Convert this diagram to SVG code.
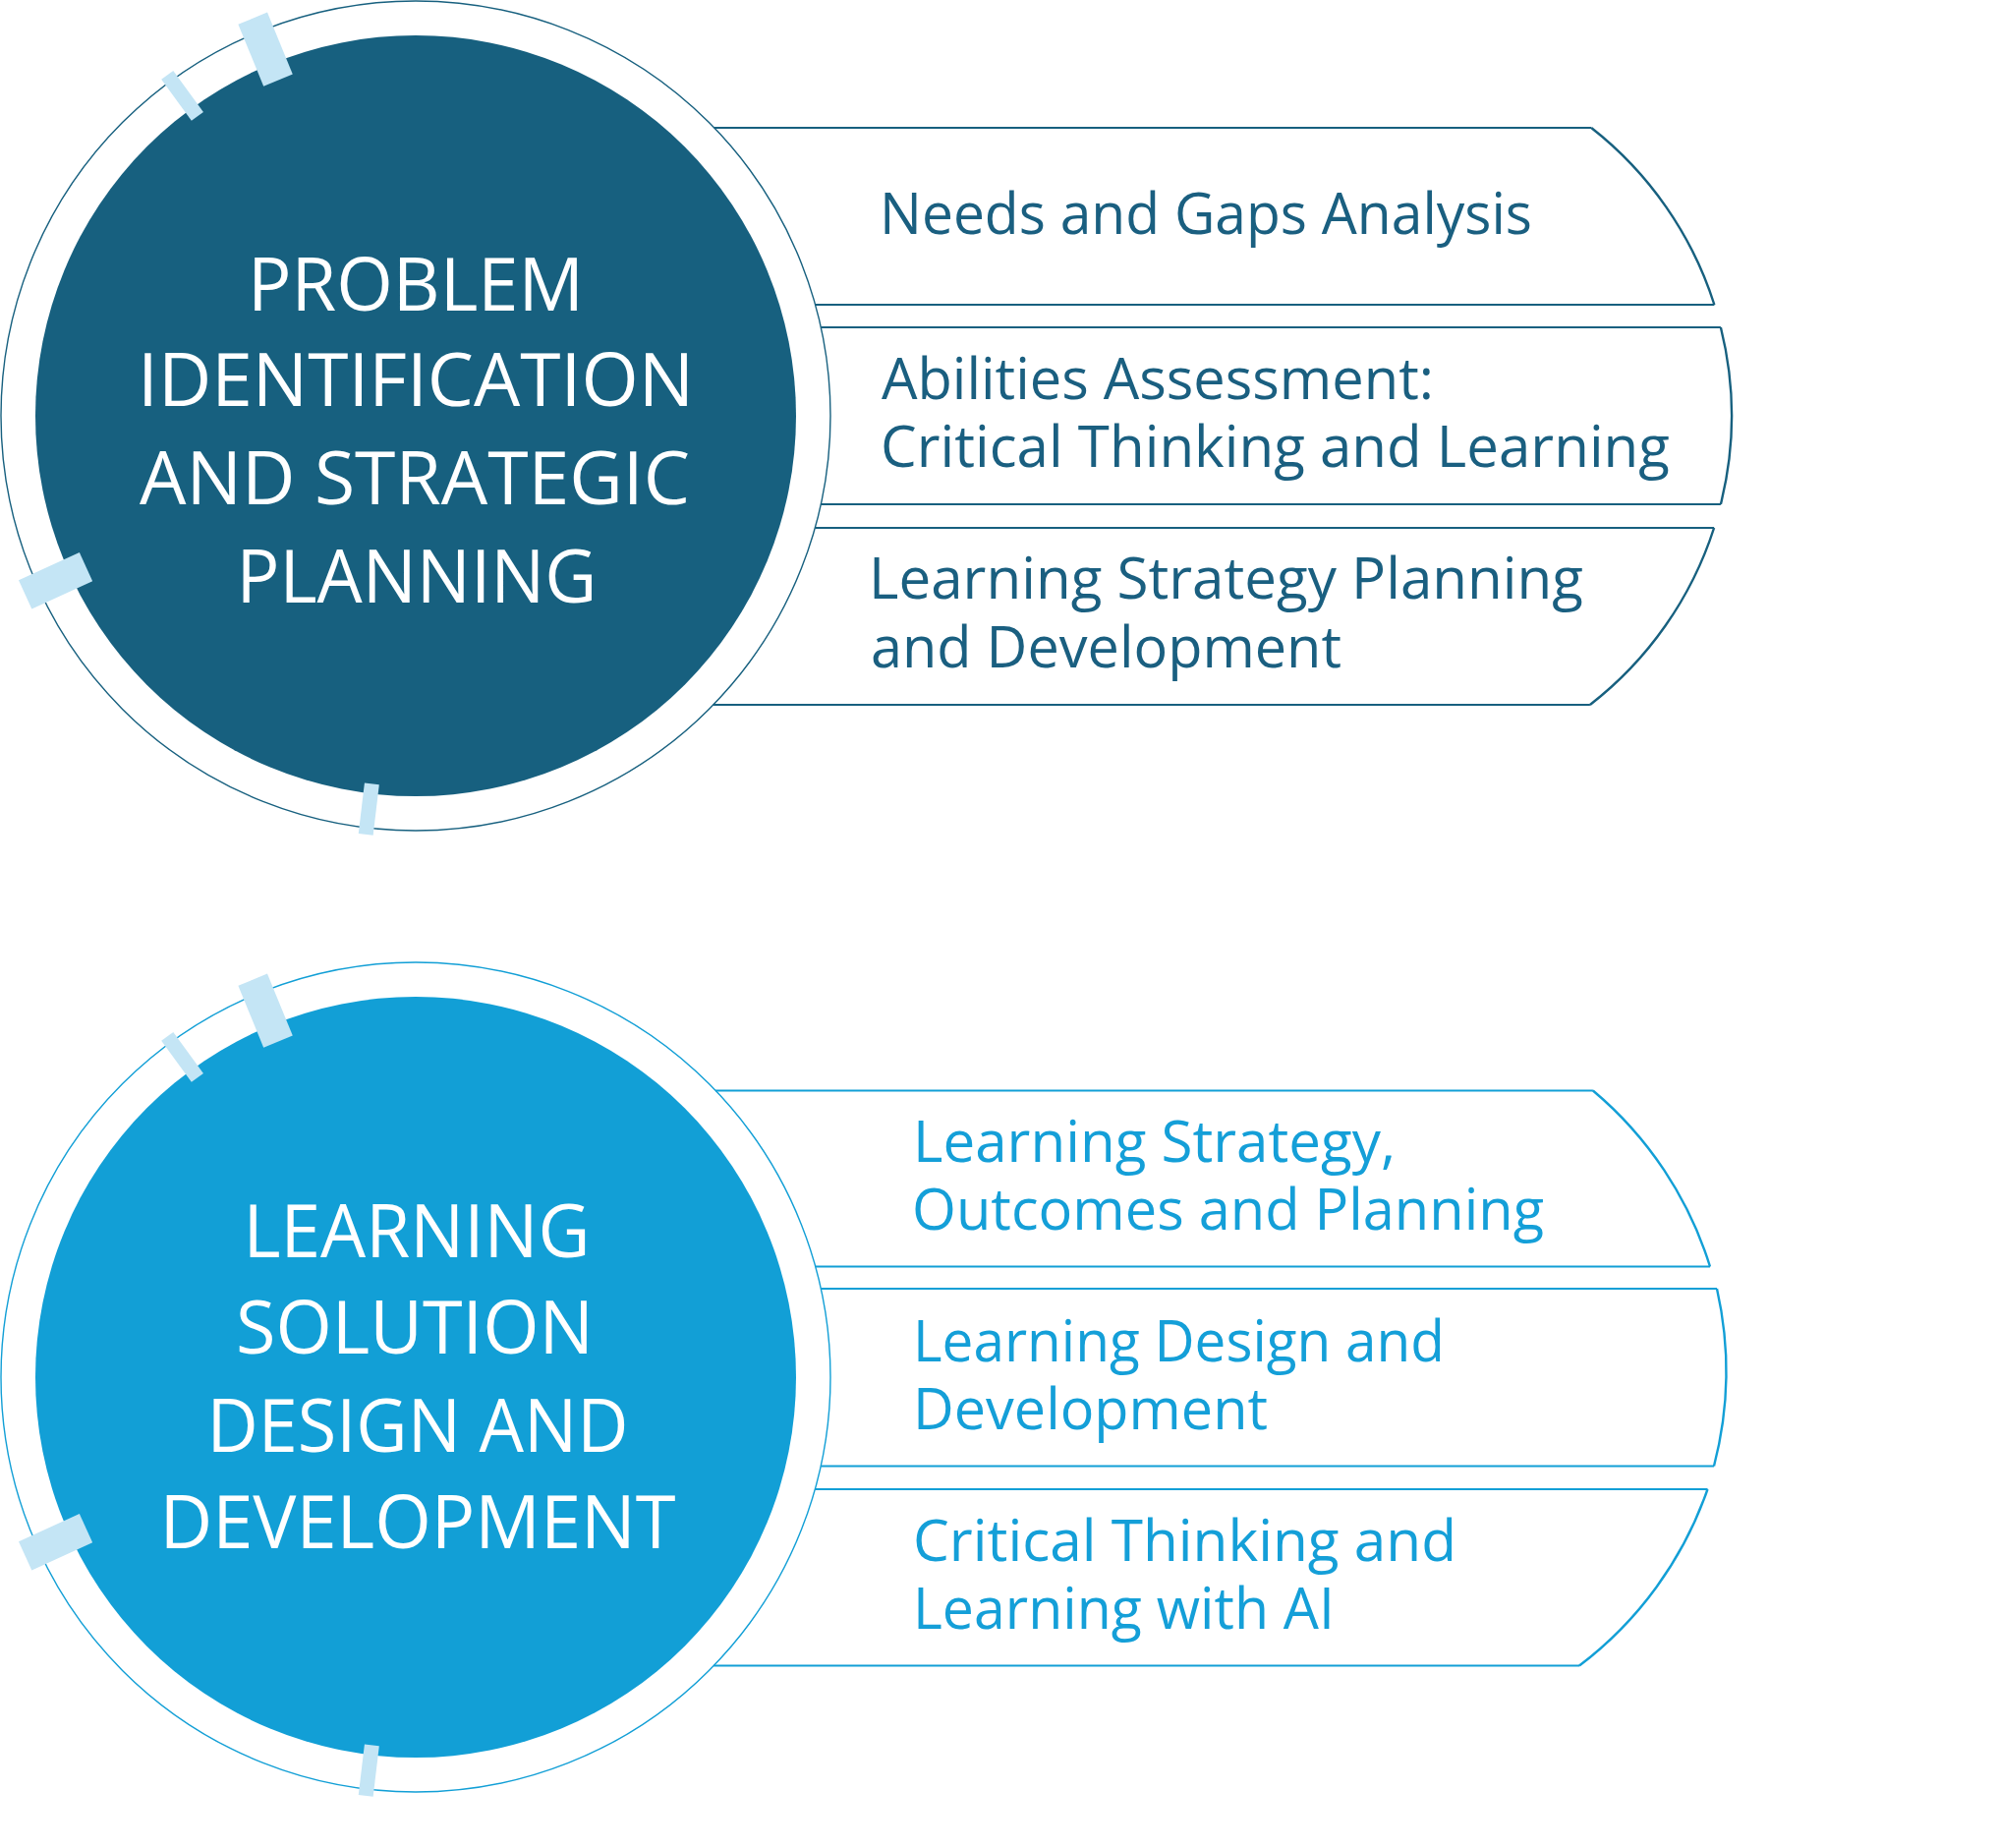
<svg xmlns="http://www.w3.org/2000/svg" width="2032" height="1880" viewBox="0 0 2032 1880">
<defs>
<style>
.bg{fill:#ffffff}
.ring1{fill:none;stroke:#17607f;stroke-width:1.4}
.ring2{fill:none;stroke:#129fd6;stroke-width:1.4}
.core1{fill:#17607f}
.core2{fill:#129fd6}
.tick{fill:#c4e5f5}
.band1{fill:none;stroke:#17607f;stroke-width:1.8}
.band2{fill:none;stroke:#129fd6;stroke-width:1.8}
.arc1{fill:none;stroke:#17607f;stroke-width:2.4}
.arc2{fill:none;stroke:#129fd6;stroke-width:2.4}
.title{font-family:"Open Sans","Noto Sans",sans-serif;font-size:75px;fill:#ffffff}
.lbl1{font-family:"Open Sans","Noto Sans",sans-serif;font-size:59px;fill:#1a5f80}
.lbl2{font-family:"Open Sans","Noto Sans",sans-serif;font-size:59px;fill:#149fd8}
</style>
<g id="ticks">
<rect class="tick" x="-34" y="-16" width="68" height="32" transform="rotate(-112.3) translate(403,0)"/>
<rect class="tick" x="-26" y="-7.5" width="52" height="15" transform="rotate(-126.1) translate(403,0)"/>
<rect class="tick" x="-34" y="-16" width="68" height="32" transform="rotate(155.4) translate(403,0)"/>
<rect class="tick" x="-26" y="-7.5" width="52" height="15" transform="rotate(96.8) translate(403,0)"/>
</g>
</defs>
<rect class="bg" x="0" y="0" width="2032" height="1880"/>

<!-- Group 1 -->
<g id="node-problem-identification">
<circle class="ring1" cx="423" cy="423" r="422"/>
<circle class="core1" cx="423" cy="423" r="387"/>
<use href="#ticks" transform="translate(423,423)"/>
<text class="title">
<tspan x="252" y="316" textLength="342" lengthAdjust="spacingAndGlyphs">PROBLEM</tspan>
<tspan x="140" y="413" textLength="566" lengthAdjust="spacingAndGlyphs">IDENTIFICATION</tspan>
<tspan x="142" y="513" textLength="560" lengthAdjust="spacingAndGlyphs">AND STRATEGIC</tspan>
<tspan x="240.5" y="613" textLength="367" lengthAdjust="spacingAndGlyphs">PLANNING</tspan>
</text>
</g>

<g id="node-needs-gaps">
<path class="band1" d="M726.7,130 H1619.2 M829.6,310 H1744.4"/>
<path class="arc1" d="M1619.2,130 A372,372 0 0 1 1744.4,310"/>
<text class="lbl1" x="895" y="238" textLength="664" lengthAdjust="spacingAndGlyphs">Needs and Gaps Analysis</text>
</g>

<g id="node-abilities-assessment">
<path class="band1" d="M835.3,333 H1750.9 M835.3,513 H1750.9"/>
<path class="arc1" d="M1750.9,333 A372,372 0 0 1 1750.9,513"/>
<text class="lbl1">
<tspan x="897" y="406" textLength="562" lengthAdjust="spacingAndGlyphs">Abilities Assessment:</tspan>
<tspan x="896" y="475" textLength="803" lengthAdjust="spacingAndGlyphs">Critical Thinking and Learning</tspan>
</text>
</g>

<g id="node-learning-strategy-planning">
<path class="band1" d="M829.3,537 H1744.1 M725.7,717 H1617.9"/>
<path class="arc1" d="M1744.1,537 A372,372 0 0 1 1617.9,717"/>
<text class="lbl1">
<tspan x="884" y="609" textLength="727" lengthAdjust="spacingAndGlyphs">Learning Strategy Planning</tspan>
<tspan x="886" y="679" textLength="479" lengthAdjust="spacingAndGlyphs">and Development</tspan>
</text>
</g>

<!-- Group 2 -->
<g id="node-learning-solution">
<circle class="ring2" cx="423" cy="1401" r="422"/>
<circle class="core2" cx="423" cy="1401" r="387"/>
<use href="#ticks" transform="translate(423,1401)"/>
<text class="title">
<tspan x="247.5" y="1278.6" textLength="353" lengthAdjust="spacingAndGlyphs">LEARNING</tspan>
<tspan x="240" y="1377" textLength="364" lengthAdjust="spacingAndGlyphs">SOLUTION</tspan>
<tspan x="210.5" y="1476.6" textLength="429" lengthAdjust="spacingAndGlyphs">DESIGN AND</tspan>
<tspan x="162.5" y="1575" textLength="525" lengthAdjust="spacingAndGlyphs">DEVELOPMENT</tspan>
</text>
</g>

<g id="node-strategy-outcomes">
<path class="band2" d="M728.1,1109.5 H1620.9 M829.7,1288.5 H1740"/>
<path class="arc2" d="M1620.9,1109.5 A382,382 0 0 1 1740,1288.5"/>
<text class="lbl2">
<tspan x="929" y="1181.5" textLength="491" lengthAdjust="spacingAndGlyphs">Learning Strategy,</tspan>
<tspan x="928" y="1250.5" textLength="643" lengthAdjust="spacingAndGlyphs">Outcomes and Planning</tspan>
</text>
</g>

<g id="node-design-development">
<path class="band2" d="M835.3,1311 H1747 M835.2,1491.5 H1744"/>
<path class="arc2" d="M1747,1311 A382,382 0 0 1 1744,1491.5"/>
<text class="lbl2">
<tspan x="929" y="1385" textLength="541" lengthAdjust="spacingAndGlyphs">Learning Design and</tspan>
<tspan x="929" y="1454" textLength="361" lengthAdjust="spacingAndGlyphs">Development</tspan>
</text>
</g>

<g id="node-critical-thinking-ai">
<path class="band2" d="M829.3,1515 H1737.5 M726.2,1694.5 H1607"/>
<path class="arc2" d="M1737.5,1515 A382,382 0 0 1 1607,1694.5"/>
<text class="lbl2">
<tspan x="929" y="1588" textLength="553" lengthAdjust="spacingAndGlyphs">Critical Thinking and</tspan>
<tspan x="929" y="1657" textLength="429" lengthAdjust="spacingAndGlyphs">Learning with AI</tspan>
</text>
</g>

<g id="connectors"/>
</svg>
